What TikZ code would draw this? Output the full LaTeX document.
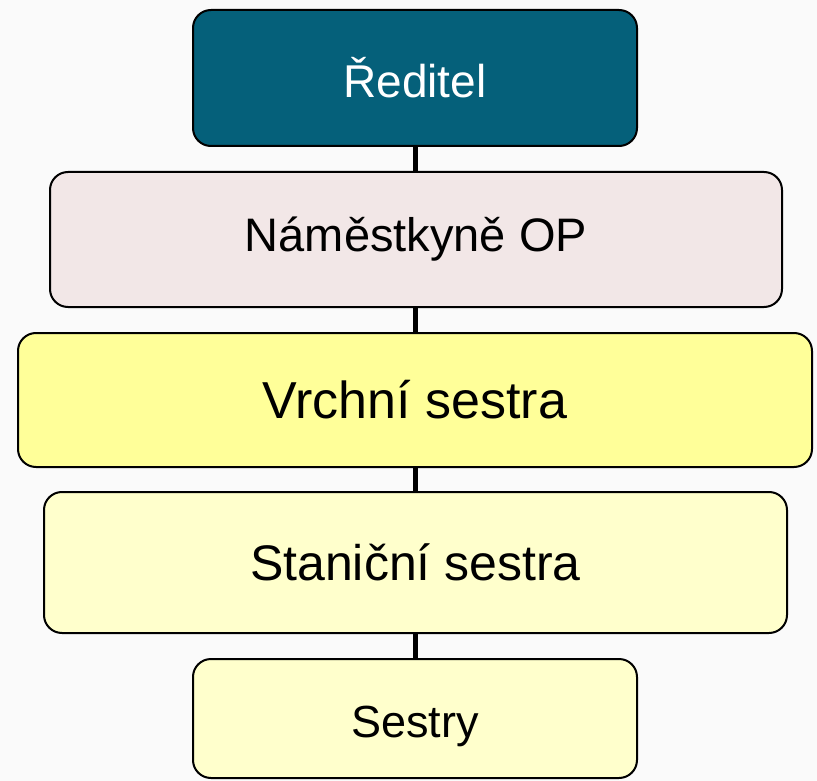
\documentclass[tikz,border=0pt]{standalone}
\usepackage{fontspec}
\setmainfont{Liberation Sans}
\definecolor{bgc}{HTML}{FAFAFA}
\definecolor{teal}{HTML}{05607A}
\definecolor{pinkc}{HTML}{F2E7E7}
\definecolor{yelc}{HTML}{FFFF99}
\definecolor{lyelc}{HTML}{FFFFCC}
\tikzset{
  orgbox/.style={draw=black, line width=2pt, rounded corners=18pt, inner sep=0pt, align=center},
  conn/.style={draw=black, line width=5pt}
}
\begin{document}
\begin{tikzpicture}[x=1pt,y=-1pt]
\fill[bgc] (0,0) rectangle (817,781);
\useasboundingbox (0,0) rectangle (817,781);
\node[orgbox, fill=teal, text=white, minimum width=444pt, minimum height=136pt, font=\fontsize{46}{50}\selectfont] (b1) at (415,78) {Ředitel};
\node[orgbox, fill=pinkc, minimum width=732pt, minimum height=135pt, font=\fontsize{47}{51}\selectfont] (b2) at (416,239.5) {Náměstkyně OP};
\node[orgbox, fill=yelc, minimum width=794pt, minimum height=134pt, font=\fontsize{52}{56}\selectfont] (b3) at (415,400) {Vrchní sestra};
\node[orgbox, fill=lyelc, minimum width=743pt, minimum height=141pt, font=\fontsize{50}{54}\selectfont] (b4) at (415.5,562.5) {Staniční sestra};
\node[orgbox, fill=lyelc, minimum width=444pt, minimum height=119pt, font=\fontsize{45}{49}\selectfont] (b5) at (415,718.5) {\raisebox{-18.5pt}[0pt][0pt]{Sestry}};
\draw[conn] (b1.south) -- (b1.south |- b2.north);
\draw[conn] (b2.south -| b1.south) -- (b1.south |- b3.north);
\draw[conn] (b3.south -| b1.south) -- (b1.south |- b4.north);
\draw[conn] (b4.south -| b1.south) -- (b1.south |- b5.north);
\end{tikzpicture}
\end{document}
